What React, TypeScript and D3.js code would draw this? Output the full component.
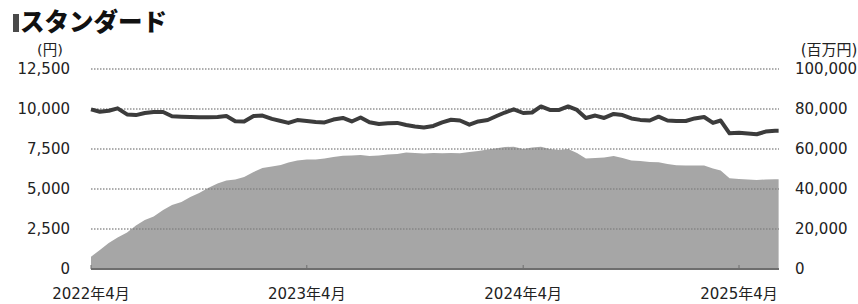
import React from "react";
import * as d3 from "d3";

const priceValues: number[] = [
  9980, 9830, 9890, 10040, 9660, 9620, 9750, 9810, 9810, 9550,
  9520, 9500, 9480, 9480, 9500, 9560, 9240, 9220, 9560, 9590,
  9380, 9250, 9130, 9310, 9250, 9190, 9160, 9340, 9440, 9220,
  9470, 9170, 9060, 9110, 9130, 9000, 8910, 8840, 8940, 9160,
  9330, 9280, 9020, 9220, 9310, 9560, 9780, 9980, 9750, 9780,
  10160, 9940, 9940, 10160, 9940, 9440, 9590, 9440, 9690, 9620,
  9410, 9320, 9280, 9520, 9280, 9250, 9250, 9410, 9500, 9130,
  9280, 8480, 8520, 8470, 8420, 8590, 8640, 8640,
];

const assetValues: number[] = [
  6150, 9500, 13000, 15750, 18250, 21750, 24500, 26250, 29500, 32000,
  33500, 36000, 38000, 40500, 42750, 44250, 44750, 46000, 48500, 50500,
  51250, 52000, 53250, 54250, 54750, 54750, 55250, 56000, 56650, 56750,
  57000, 56500, 56750, 57250, 57500, 58250, 58000, 57750, 58000, 57850,
  58000, 57850, 58500, 59000, 59750, 60350, 61000, 61150, 60000, 60750,
  61150, 60000, 59500, 60000, 58000, 55250, 55500, 55750, 56500, 55500,
  54250, 54000, 53500, 53350, 52500, 51850, 51750, 51750, 51750, 50250,
  49250, 45350, 45000, 44750, 44500, 44750, 44850, 44850,
];

// semi-monthly dates from 2022-04-01, last point 2025-06-07
const dates: Date[] = priceValues.map((_, i) =>
  i === priceValues.length - 1
    ? new Date(2025, 5, 7)
    : new Date(2022, 3 + Math.floor(i / 2), i % 2 ? 16 : 1)
);

const leftTicks = [0, 2500, 5000, 7500, 10000, 12500];
const rightTicks = [0, 20000, 40000, 60000, 80000, 100000];
const xTickDates = [new Date(2022, 3, 1), new Date(2023, 3, 1), new Date(2024, 3, 1), new Date(2025, 3, 1)];
const xTickLabels = ["2022年4月", "2023年4月", "2024年4月", "2025年4月"];

const FONT = "'DejaVu Sans', 'Noto Sans CJK JP', sans-serif";

export default function App() {
  const W = 858, H = 304;
  const x0 = 91, x1 = 779;
  const x = d3.scaleTime().domain([xTickDates[0], xTickDates[3]]).range([91, 739]);
  const yL = d3.scaleLinear().domain([0, 12500]).range([269, 69]);
  const yR = d3.scaleLinear().domain([0, 100000]).range([269, 69]);

  const area = d3.area<number>()
    .x((_, i) => x(dates[i]))
    .y0(yR(0))
    .y1((d) => yR(d));
  const line = d3.line<number>()
    .x((_, i) => x(dates[i]))
    .y((d) => yL(d));

  return (
    <svg width={W} height={H} style={{ position: "absolute", left: 0, top: 0, background: "#fff" }}>
      <rect x={13} y={14} width={6} height={18} fill="#4a4a4a" />
      <text x={20} y={31} fontFamily="'Noto Sans CJK JP', sans-serif" fontWeight={900} fontSize={24.5} fill="#111">スタンダード</text>

      <text x={50} y={55} textAnchor="middle" fontFamily={FONT} fontSize={14.5} fill="#222">(円)</text>
      <text x={829} y={55} textAnchor="middle" fontFamily={FONT} fontSize={15} fill="#222">(百万円)</text>

      <path d={area(assetValues) || ""} fill="#a6a6a6" />

      {leftTicks.filter((t) => t > 0).map((t) => (
        <line key={t} x1={x0} x2={x1} y1={yL(t)} y2={yL(t)} stroke="#808080" strokeWidth={1.3} strokeDasharray="1.5,1.5" opacity={0.85} />
      ))}
      <line x1={x0} x2={x1} y1={yL(0)} y2={yL(0)} stroke="#6e6e6e" strokeWidth={2} />
      {xTickDates.map((d, i) => (
        <line key={i} x1={x(d)} x2={x(d)} y1={yL(0) - 4} y2={yL(0)} stroke="#6e6e6e" strokeWidth={1} />
      ))}

      <path d={line(priceValues) || ""} fill="none" stroke="#3c3c3c" strokeWidth={4} strokeLinejoin="round" />

      {leftTicks.map((t) => (
        <text key={t} x={70} y={yL(t) + 5} textAnchor="end" fontFamily={FONT} fontSize={15} fill="#222">
          {d3.format(",")(t)}
        </text>
      ))}
      {rightTicks.map((t) => (
        <text key={t} x={795} y={yR(t) + 5} textAnchor="start" fontFamily={FONT} fontSize={15} fill="#222">
          {d3.format(",")(t)}
        </text>
      ))}
      {xTickDates.map((d, i) => (
        <text key={i} x={x(d)} y={299} textAnchor="middle" fontFamily={FONT} fontSize={15} fill="#222">
          {xTickLabels[i]}
        </text>
      ))}
    </svg>
  );
}
